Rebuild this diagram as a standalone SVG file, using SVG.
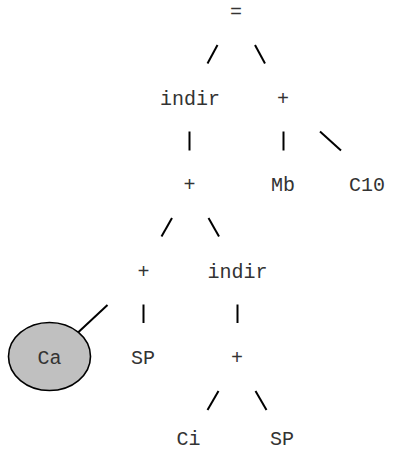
<svg xmlns="http://www.w3.org/2000/svg" width="396" height="451" viewBox="0 0 396 451">
<style>
text{font-family:"Liberation Mono","Courier New",monospace;font-size:20px;fill:#333;text-anchor:middle}
.e{stroke:#000;stroke-width:2;fill:none;stroke-linecap:butt}
.hl{fill:#c0c0c0;stroke:#000;stroke-width:1.6}
</style>
<rect width="396" height="451" fill="#fff"/>
<g id="connectors">
<line class="e" x1="207.5" y1="63.5" x2="217.5" y2="45"/>
<line class="e" x1="255" y1="45" x2="265" y2="63.5"/>
<line class="e" x1="189.5" y1="131.5" x2="189.5" y2="150.5"/>
<line class="e" x1="283.5" y1="131.5" x2="283.5" y2="150.5"/>
<line class="e" x1="320" y1="131.5" x2="341" y2="150.5"/>
<line class="e" x1="161.5" y1="236.5" x2="172" y2="218"/>
<line class="e" x1="208.5" y1="218" x2="219" y2="236.5"/>
<line class="e" x1="107.5" y1="305" x2="78" y2="332.5"/>
<line class="e" x1="143.5" y1="304.5" x2="143.5" y2="323"/>
<line class="e" x1="237.5" y1="304.5" x2="237.5" y2="323"/>
<line class="e" x1="207.5" y1="410" x2="218.5" y2="391"/>
<line class="e" x1="255.5" y1="391" x2="266.5" y2="410"/>
</g>
<g id="n-eq"><text x="236" y="18">=</text></g>
<g id="n-indir1"><text x="190" y="104.5">indir</text></g>
<g id="n-plus1"><text x="283" y="104.5">+</text></g>
<g id="n-plus2"><text x="189.5" y="191">+</text></g>
<g id="n-mb"><text x="283" y="191">Mb</text></g>
<g id="n-c10"><text x="367" y="191">C10</text></g>
<g id="n-plus3"><text x="143.5" y="277.5">+</text></g>
<g id="n-indir2"><text x="237.5" y="277.5">indir</text></g>
<g id="n-ca"><ellipse class="hl" cx="49.5" cy="356.5" rx="41" ry="34"/><text x="49.5" y="363.5">Ca</text></g>
<g id="n-sp1"><text x="143" y="363.5">SP</text></g>
<g id="n-plus4"><text x="237" y="363.5">+</text></g>
<g id="n-ci"><text x="188.5" y="445">Ci</text></g>
<g id="n-sp2"><text x="282" y="445">SP</text></g>
</svg>
